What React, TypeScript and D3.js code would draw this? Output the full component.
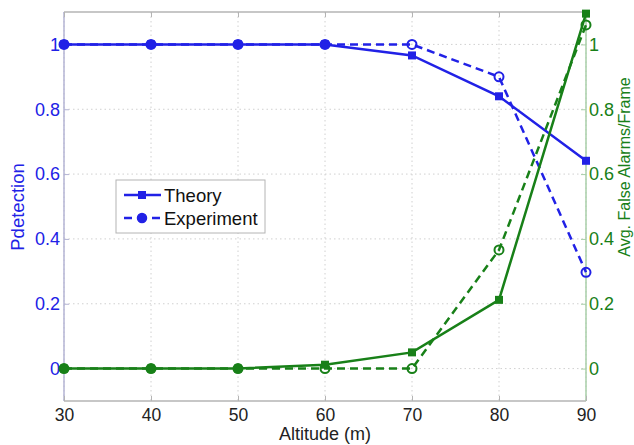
import React, { useEffect, useRef } from 'react';
import * as d3 from 'd3';

// altitudes (m)
const altitudes = [30, 40, 50, 60, 70, 80, 90];
// detection probability
const pdTheory = [1, 1, 1, 1, 0.966, 0.84, 0.641];
const pdExperiment = [1, 1, 1, 1, 1, 0.9, 0.297];
// avg false alarms per frame
const faTheory = [0, 0, 0, 0.012, 0.05, 0.212, 1.095];
const faExperiment = [0, 0, 0, 0, 0, 0.366, 1.06];

const xTicks = [30, 40, 50, 60, 70, 80, 90];
const yTicks = [0, 0.2, 0.4, 0.6, 0.8, 1];

const BLUE = '#2121e6';
const GREEN = '#188018';

export default function App() {
  const ref = useRef<SVGSVGElement>(null);

  useEffect(() => {
    const svg = d3.select(ref.current);
    svg.selectAll('*').remove();

    const margin = { top: 12, right: 48, bottom: 44, left: 64 };
    const width = 634, height = 445;
    const w = width - margin.left - margin.right;
    const h = height - margin.top - margin.bottom;

    const x = d3.scaleLinear().domain([30, 90]).range([0, w]);
    const yL = d3.scaleLinear().domain([-0.1, 1.1]).range([h, 0]);
    const yR = d3.scaleLinear().domain([-0.1, 1.1]).range([h, 0]);

    svg.append('rect').attr('width', width).attr('height', height).attr('fill', '#fff');

    const g = svg.append('g').attr('transform', `translate(${margin.left},${margin.top})`);
    const font = 'Liberation Sans, Arial, sans-serif';

    //grid
    const grid = g.append('g').attr('stroke', '#d0d0d0').attr('stroke-dasharray', '1.5,3').attr('stroke-width', 1);
    xTicks.forEach(t => {
      grid.append('line').attr('x1', x(t)).attr('x2', x(t)).attr('y1', 0).attr('y2', h);
    });
    yTicks.forEach(t => {
      grid.append('line').attr('x1', 0).attr('x2', w).attr('y1', yL(t)).attr('y2', yL(t));
    });

    //box
    g.append('line').attr('x1', 0).attr('x2', w).attr('y1', 0).attr('y2', 0).attr('stroke', '#b4b4b4').attr('stroke-width', 1.5);
    g.append('line').attr('x1', 0).attr('x2', w).attr('y1', h).attr('y2', h).attr('stroke', '#b4b4b4').attr('stroke-width', 1.5);
    g.append('line').attr('x1', 0).attr('x2', 0).attr('y1', 0).attr('y2', h).attr('stroke', '#b4b4d4').attr('stroke-width', 1.5);
    g.append('line').attr('x1', w).attr('x2', w).attr('y1', 0).attr('y2', h).attr('stroke', '#a8cfa8').attr('stroke-width', 1.5);

    //x axis
    const xAxis = d3.axisBottom(x).tickValues(xTicks).tickSize(-5).tickPadding(8).tickFormat(d3.format('d'));
    const xg = g.append('g').attr('transform', `translate(0,${h})`).call(xAxis);
    xg.select('.domain').remove();
    xg.selectAll('line').attr('stroke', '#b4b4b4');
    xg.selectAll('text').attr('font-size', 17.5).attr('font-family', font).attr('fill', '#222');
    // top ticks
    const xgt = g.append('g').call(d3.axisTop(x).tickValues(xTicks).tickSize(-5).tickFormat(() => ''));
    xgt.select('.domain').remove();
    xgt.selectAll('line').attr('stroke', '#b4b4b4');

    const fmt = (d: any) => (d === 0 || d === 1 ? String(d) : d3.format('.1f')(d));

    //left axis
    const yg = g.append('g').call(d3.axisLeft(yL).tickValues(yTicks).tickSize(-5).tickPadding(4).tickFormat(fmt));
    yg.select('.domain').remove();
    yg.selectAll('line').attr('stroke', '#b4b4d4');
    yg.selectAll('text').attr('font-size', 18).attr('font-family', font).attr('fill', BLUE);

    //right axis
    const yrg = g.append('g').attr('transform', `translate(${w},0)`)
      .call(d3.axisRight(yR).tickValues(yTicks).tickSize(-5).tickPadding(3).tickFormat(fmt));
    yrg.select('.domain').remove();
    yrg.selectAll('line').attr('stroke', '#a8cfa8');
    yrg.selectAll('text').attr('font-size', 18).attr('font-family', font).attr('fill', GREEN);

    //series
    const series = [
      { vals: pdTheory, y: yL, color: BLUE, dash: null, marker: 'square' },
      { vals: pdExperiment, y: yL, color: BLUE, dash: '8,5', marker: 'circle' },
      { vals: faTheory, y: yR, color: GREEN, dash: null, marker: 'square' },
      { vals: faExperiment, y: yR, color: GREEN, dash: '8,5', marker: 'circle' },
    ];

    series.forEach(s => {
      const pts = altitudes.map((a, i) => [a, s.vals[i]] as [number, number]);
      const line = d3.line<[number, number]>().x(d => x(d[0])).y(d => s.y(d[1]));
      g.append('path').datum(pts)
        .attr('d', line)
        .attr('fill', 'none')
        .attr('stroke', s.color)
        .attr('stroke-width', 2.5)
        .attr('stroke-dasharray', s.dash);

      if (s.marker === 'square') {
        g.selectAll(null).data(pts).enter().append('rect')
          .attr('x', d => x(d[0]) - 4).attr('y', d => s.y(d[1]) - 4)
          .attr('width', 8).attr('height', 8)
          .attr('fill', s.color);
      } else {
        g.selectAll(null).data(pts).enter().append('circle')
          .attr('cx', d => x(d[0])).attr('cy', d => s.y(d[1]))
          .attr('r', 4.5)
          .attr('fill', 'none')
          .attr('stroke', s.color)
          .attr('stroke-width', 2);
      }
    });

    //legend
    const lg = svg.append('g').attr('transform', 'translate(116,180)');
    lg.append('rect').attr('width', 149).attr('height', 53).attr('fill', '#fff').attr('stroke', '#b4b4b4');
    lg.append('line').attr('x1', 8).attr('x2', 45).attr('y1', 15).attr('y2', 15).attr('stroke', BLUE).attr('stroke-width', 2.5);
    lg.append('rect').attr('x', 22).attr('y', 11).attr('width', 8).attr('height', 8).attr('fill', BLUE);
    lg.append('text').attr('x', 48).attr('y', 22).text('Theory')
      .attr('font-size', 18.5).attr('font-family', font).attr('fill', '#111');
    lg.append('line').attr('x1', 8).attr('x2', 45).attr('y1', 38).attr('y2', 38).attr('stroke', BLUE).attr('stroke-width', 2.5).attr('stroke-dasharray', '8,6');
    lg.append('circle').attr('cx', 26).attr('cy', 38).attr('r', 4.5).attr('fill', BLUE).attr('stroke', BLUE).attr('stroke-width', 1.5);
    lg.append('text').attr('x', 48).attr('y', 45).text('Experiment')
      .attr('font-size', 18.5).attr('font-family', font).attr('fill', '#111');

    //axis labels
    svg.append('text').attr('x', margin.left + w / 2).attr('y', 440).attr('text-anchor', 'middle')
      .attr('font-size', 18).attr('font-family', font).attr('fill', '#222').text('Altitude (m)');
    svg.append('text').attr('transform', 'translate(24,207) rotate(-90)').attr('text-anchor', 'middle')
      .attr('font-size', 18.5).attr('font-family', font).attr('fill', BLUE).text('Pdetection');
    svg.append('text').attr('transform', 'translate(630,167) rotate(-90)').attr('text-anchor', 'middle')
      .attr('font-size', 16).attr('font-family', font).attr('fill', GREEN).text('Avg. False Alarms/Frame');
  }, []);

  return (
    <svg ref={ref} width={634} height={445} style={{ position: 'absolute', left: 0, top: 0 }} />
  );
}
